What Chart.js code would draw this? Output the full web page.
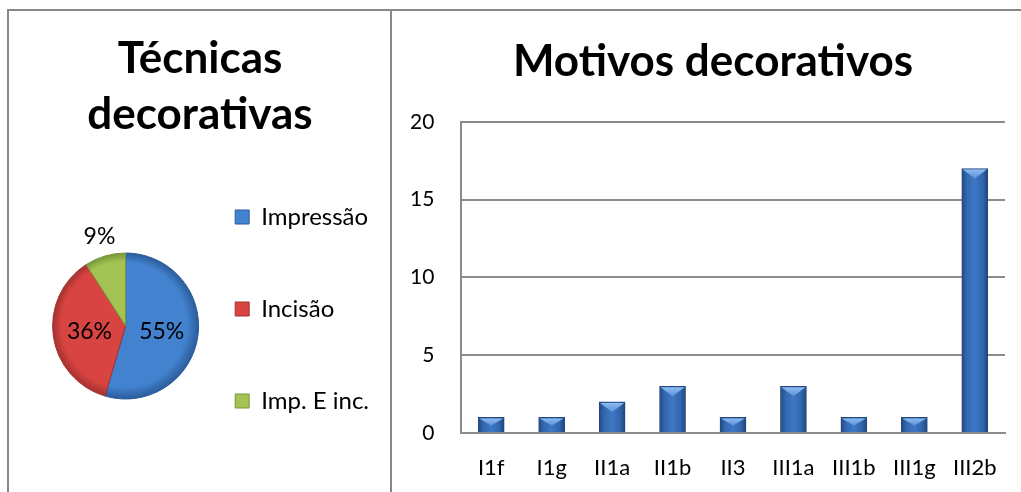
<!DOCTYPE html>
<html>
<head>
<meta charset="utf-8">
<script src="https://cdn.jsdelivr.net/npm/chart.js@4/dist/chart.umd.min.js"></script>
<style>
  html, body { margin: 0; padding: 0; background: #fff; overflow: hidden; }
  body { width: 1021px; height: 492px; position: relative; }
  #frame { position: absolute; left: 7px; top: 9px; width: 1100px; height: 600px;
           border-top: 2px solid #888; border-left: 2px solid #888; }
  #divider { position: absolute; left: 390px; top: 9px; width: 2px; height: 600px; background: #888; }
  #pie { position: absolute; left: 9px; top: 11px; display: block; }
  #bars { position: absolute; left: 392px; top: 11px; display: block; }
</style>
</head>
<body>
<div id="frame"></div>
<div id="divider"></div>
<canvas id="pie" width="380" height="481"></canvas>
<canvas id="bars" width="644" height="481"></canvas>
<script>
// pie data
const techLabels = ["Impressão", "Incisão", "Imp. E inc."];
const techValues = [6, 4, 1];
// bar data
const motifLabels = ["I1f", "I1g", "II1a", "II1b", "II3", "III1a", "III1b", "III1g", "III2b"];
const motifValues = [1, 1, 2, 3, 1, 3, 1, 1, 17];
const yTicks = [0, 5, 10, 15, 20];

const FONT = "Lato, 'Open Sans', sans-serif";
Chart.defaults.font.family = FONT;
Chart.defaults.color = "#000";

const sliceBase = ["#4282ce", "#d84441", "#a3c452"];
const sliceRim = ["#2b5c9b", "#a33230", "#77963a"];
const PIE_R = 73;

function sliceFill(c) {
  const chart = c.chart, area = chart.chartArea;
  const i = c.dataIndex;
  if (!area) return sliceBase[i];
  const cx = (area.left + area.right) / 2, cy = (area.top + area.bottom) / 2;
  const g = chart.ctx.createRadialGradient(cx - 10, cy - 10, 0, cx, cy, PIE_R);
  g.addColorStop(0, sliceBase[i]);
  g.addColorStop(0.86, sliceBase[i]);
  g.addColorStop(1, sliceRim[i]);
  return g;
}

const pieLabels = {
  id: "pieLabels",
  afterDatasetsDraw(chart) {
    const meta = chart.getDatasetMeta(0);
    const values = chart.data.datasets[0].data;
    const total = values.reduce((a, b) => a + b, 0);
    const ctx = chart.ctx;
    ctx.save();
    ctx.font = "23px " + FONT;
    ctx.fillStyle = "#000";
    ctx.textAlign = "center";
    ctx.textBaseline = "middle";
    meta.data.forEach((arc, i) => {
      const p = arc.getProps(["x", "y", "startAngle", "endAngle", "outerRadius"], true);
      const share = values[i] / total;
      const mid = (p.startAngle + p.endAngle) / 2;
      const r = share < 0.15 ? p.outerRadius * 1.27 : p.outerRadius * 0.5;
      ctx.fillText(Math.round(share * 100) + "%", p.x + Math.cos(mid) * r, p.y + Math.sin(mid) * r);
    });
    ctx.restore();
  }
};

new Chart(document.getElementById("pie"), {
  type: "pie",
  plugins: [pieLabels],
  data: {
    labels: techLabels,
    datasets: [{
      data: techValues,
      radius: PIE_R,
      backgroundColor: sliceFill,
      borderColor: sliceRim,
      borderWidth: 1
    }]
  },
  options: {
    responsive: false,
    animation: false,
    devicePixelRatio: 1,
    layout: { padding: { left: 12, right: 10, top: 0, bottom: 11 } },
    plugins: {
      tooltip: { enabled: false },
      title: {
        display: true,
        text: ["Técnicas", "decorativas"],
        color: "#000",
        font: { size: 44, weight: "bold", lineHeight: 56 / 44 },
        padding: { top: 20, bottom: 28 }
      },
      legend: {
        position: "right",
        align: "end",
        labels: {
          boxWidth: 14,
          boxHeight: 14,
          padding: 5,
          color: "#000",
          // tall line height spaces the three entries apart
          font: { size: 24, lineHeight: 87 / 24 },
          generateLabels: () => techLabels.map((t, i) => ({
            text: [t], fillStyle: sliceBase[i], strokeStyle: sliceRim[i], lineWidth: 1, index: i
          }))
        }
      }
    }
  }
});

const BAR_W = 26;
function barFill(c) {
  const chart = c.chart, xs = chart.scales.x;
  if (!xs || !chart.chartArea) return "#3a72bc";
  const px = xs.getPixelForValue(c.dataIndex);
  const g = chart.ctx.createLinearGradient(px - BAR_W / 2, 0, px + BAR_W / 2, 0);
  g.addColorStop(0, "#224a82");
  g.addColorStop(0.2, "#3468b0");
  g.addColorStop(0.5, "#3d78c4");
  g.addColorStop(0.8, "#3266ad");
  g.addColorStop(1, "#1f457b");
  return g;
}

const barCaps = {
  id: "barCaps",
  afterDatasetsDraw(chart) {
    const ctx = chart.ctx;
    chart.getDatasetMeta(0).data.forEach(bar => {
      const p = bar.getProps(["x", "y", "width", "base"], true);
      const half = p.width / 2;
      const depth = Math.min(10, (p.base - p.y) * 0.55);
      const g = ctx.createLinearGradient(0, p.y, 0, p.y + depth);
      g.addColorStop(0, "#93bff2");
      g.addColorStop(1, "#5d92d8");
      ctx.save();
      ctx.beginPath();
      ctx.moveTo(p.x - half + 1, p.y + 1);
      ctx.lineTo(p.x + half - 1, p.y + 1);
      ctx.lineTo(p.x, p.y + depth);
      ctx.closePath();
      ctx.fillStyle = g;
      ctx.fill();
      ctx.restore();
    });
  }
};

new Chart(document.getElementById("bars"), {
  type: "bar",
  plugins: [barCaps],
  data: {
    labels: motifLabels,
    datasets: [{
      data: motifValues,
      backgroundColor: barFill,
      borderColor: "#24477a",
      borderWidth: 1,
      barThickness: BAR_W
    }]
  },
  options: {
    responsive: false,
    animation: false,
    devicePixelRatio: 1,
    layout: { padding: { left: 29, right: 31, top: 0, bottom: 11 } },
    plugins: {
      legend: { display: false },
      tooltip: { enabled: false },
      title: {
        display: true,
        text: "Motivos decorativos",
        color: "#000",
        font: { size: 44, weight: "bold", lineHeight: 1.2 },
        padding: { top: 24, bottom: 34 }
      }
    },
    scales: {
      x: {
        afterFit: s => { s.height = 48; },
        grid: { display: false, drawTicks: false },
        border: { display: true, color: "#8c8c8c", width: 2 },
        ticks: { padding: 22, color: "#000", font: { size: 22 } }
      },
      y: {
        min: 0,
        max: 20,
        afterFit: s => { s.width = 40; },
        afterBuildTicks: s => { s.ticks = yTicks.map(v => ({ value: v })); },
        grid: { color: "#8c8c8c", lineWidth: 2, drawTicks: false },
        border: { display: true, color: "#8c8c8c", width: 2 },
        // mirrored + far so labels sit right-aligned left of the axis without clipping
        ticks: { mirror: true, crossAlign: "far", padding: -51, color: "#000", font: { size: 21 } }
      }
    }
  }
});
</script>
</body>
</html>
